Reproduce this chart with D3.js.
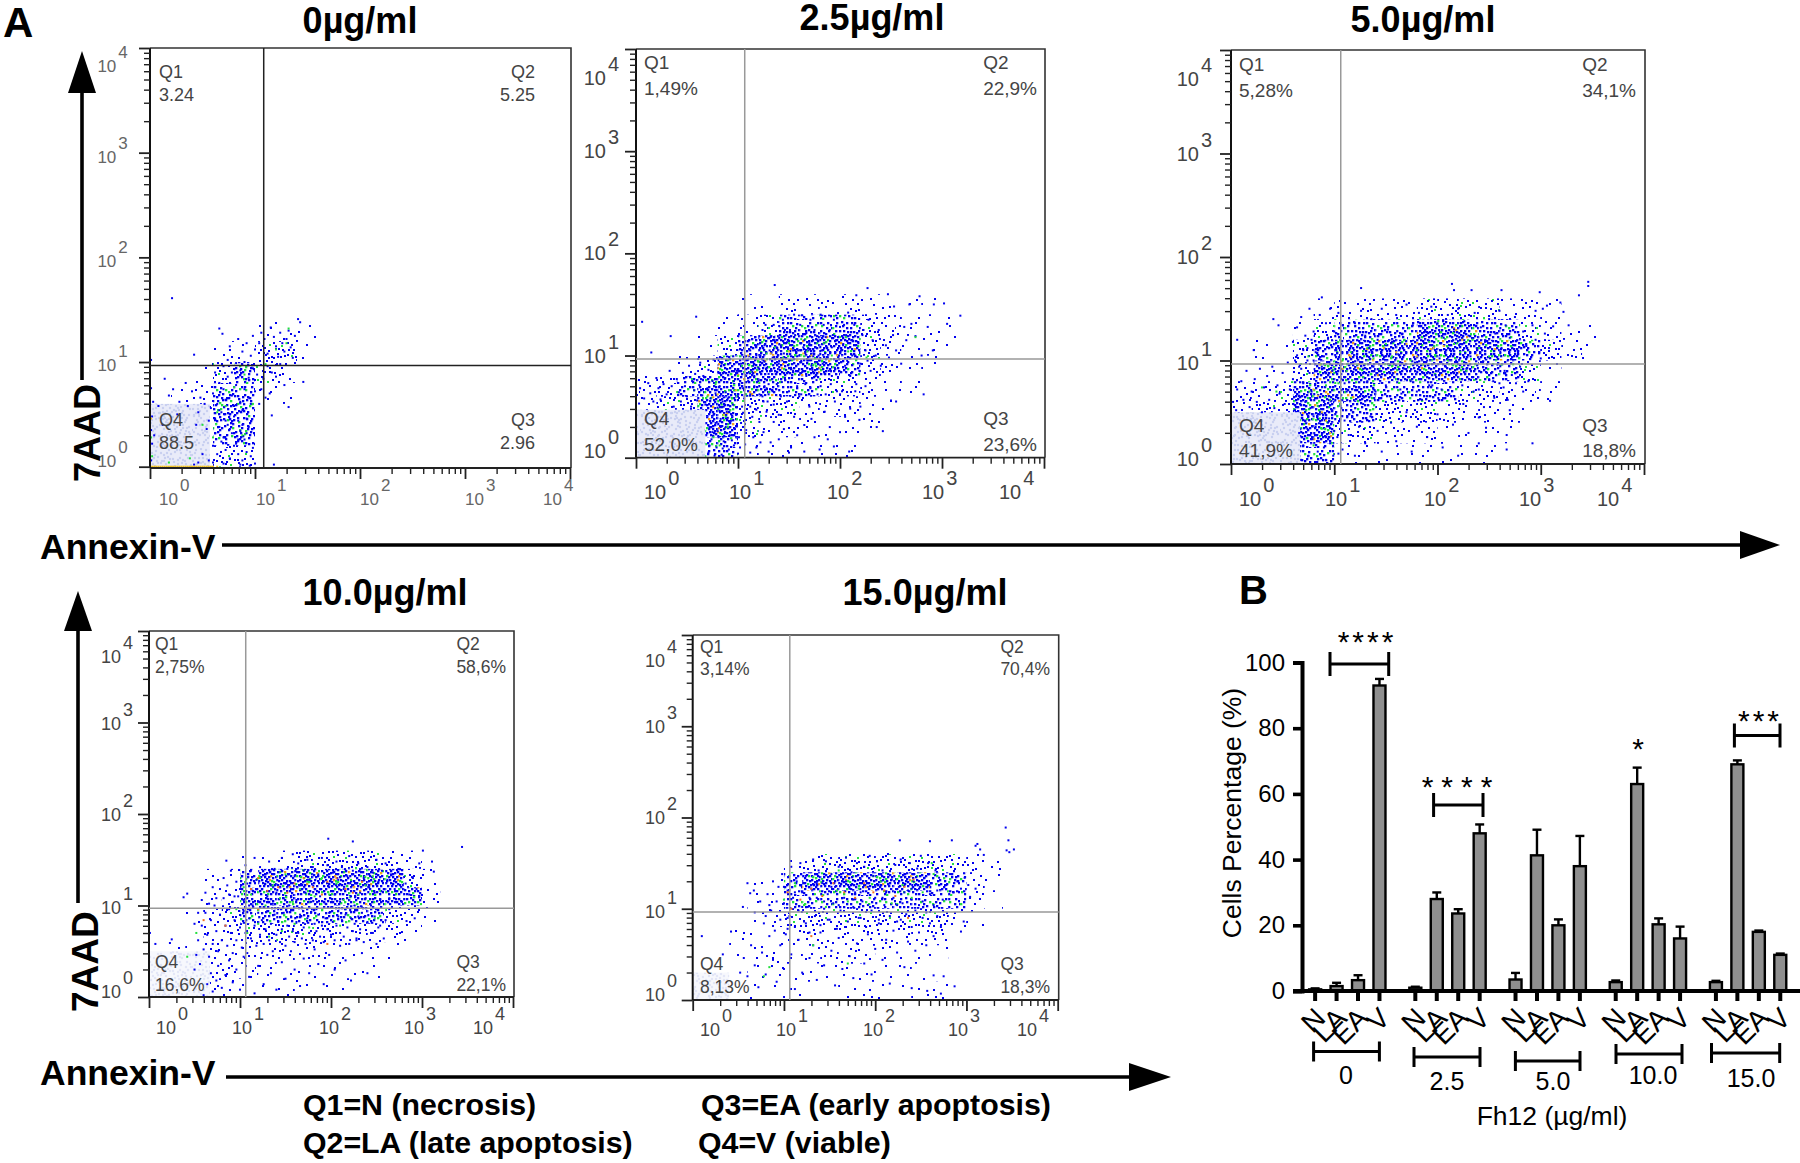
<!DOCTYPE html>
<html><head><meta charset="utf-8">
<script src="https://cdn.jsdelivr.net/npm/d3@7/dist/d3.min.js"></script>
<style>html,body{margin:0;background:#fff}svg{display:block}text{font-family:"Liberation Sans",Arial,sans-serif}</style>
</head><body><svg id="c" width="1800" height="1163"></svg>
<script>
// ---------- flow cytometry values
const titles=["0µg/ml","2.5µg/ml","5.0µg/ml","10.0µg/ml","15.0µg/ml"];
const gateX=[1.083,1.066,1.063,1.063,1.064];
const gateY=[0.966,0.966,0.966,0.97,0.965];
const q1=["3.24","1,49%","5,28%","2,75%","3,14%"];
const q2=["5.25","22,9%","34,1%","58,6%","70,4%"];
const q3=["2.96","23,6%","18,8%","22,1%","18,3%"];
const q4=["88.5","52,0%","41,9%","16,6%","8,13%"];
const paleX=[0.57,0.68,0.67,0.67,0.40];
const paleY=[0.60,0.47,0.50,0.50,0.30];

// event density by eye, 0 (none) to 5 (densest): one character per 0.2 decade of Annexin-V,
// one row per 0.2 decade of 7AAD, top row first (top row = 1.4 to 1.6 decades)
const density0=["000000000000000000","000001110000000000","000113310000000000","001343200000000000","012441100000000000","112440000000000000","000440000000000000","000330000000000000"];
const density25=["000001122222111000","000012344443211100","000134555553211100","001355555543211000","234555544332110000","233553332221100000","000553221111000000","000441111110000000"];
const density5=["000012222333322100","000134444555443211","011345555555554321","001355555555443100","223555544443322100","233554433322211000","000553322211110000","000441111111100000"];
const density10=["000001123333322000","000114555555553100","000125555555555200","001234444444432100","001223333322221000","011222222211110000","000222111111100000","000211111110000000"];
const density15=["000001233333333210","000114555555544210","000114444444444210","000123333333332100","001112222222221000","001121222211110000","000111111111100000","000111011111110000"];

// single events: hundredths of a decade, flat x,y lists
const p0Blue=[21,161,146,81,132,57,116,49,141,141,143,138,0,105,1,102,42,107,69,127,66,132,76,115,84,122,88,110,92,118,96,106,100,112,98,125,104,118,106,128,109,122,112,108,115,133,118,124,120,115,122,105,124,128,126,118,128,110,130,122,132,130,134,114,136,104,138,125,112,96,116,90,120,86,124,98,128,78,102,88,106,74,110,66,100,72,104,60,108,84,114,70,70,96,74,102,78,90,82,99,86,92,90,100,94,85,98,94,62,90,66,80,70,74,74,86,78,68,82,78,86,62,90,74,94,66,98,80,60,70,64,60,68,52,72,64,76,50,80,58,84,44,88,54,92,46,96,60,58,56,62,46,66,38,70,28,74,40,78,32,82,22,86,34,90,26,94,38,98,18,62,32,60,20,64,12,68,24,72,16,76,8,80,20,84,12,88,6,92,14,96,10,66,54,72,44,76,36,80,48,84,26,88,40,92,32,56,44,54,36,52,60,48,66,46,52,44,40,40,72,36,58,34,80,28,62,22,74,26,50,18,68,14,84,12,40,8,58,4,30,3,62,2,48,1,75,0,14,1,6,2,22,1,35,0,44,50,12,46,4,42,2,56,6,60,4,70,3,86,2,95,1,100,3,118,2];
const p0Green=[0,20,1,28,0,40,2,10,50,40,64,52,72,58,80,76,84,60,90,88,110,98,120,112,130,118,132,132,98,60,60,28,88,30,38,8,18,4];
const p0Hot=[0,0,2,0,4,0,6,0,8,0,10,0,12,0,14,0,16,0,18,0,20,0,22,0,24,0,26,0,28,0,30,0,32,0,34,0,36,0,38,0,40,0,42,0,44,0,46,0,48,0,50,0,52,0,54,0,56,0,58,0,60,0,64,0,0,3,0,6,0,9,0,12,0,15,0,18,0,21,0,24,0,27,0,30,0,33,0,36,0,39,0,42,1,46];

const p25Blue=[136,169,6,133,59,138,34,119,15,103,227,166,247,160,278,158,302,151,318,139,305,131,292,150,268,150,253,148,216,159,282,62,255,55,250,56,242,26,236,30,219,37,209,6,194,11,291,105,280,100,274,119,286,128,263,128,270,131,4,68,8,58,3,53,12,73,14,63,17,55,20,78,22,68,24,57,27,72,30,62,33,85,35,70,37,50,40,77,42,64,44,55,46,83,48,70,50,60,52,90,54,50,55,75,57,66,58,82,60,56,62,71,63,93,65,61,66,80,68,52,70,68,71,86,73,58,75,75,76,96,78,63,80,49,81,83,82,70,84,92,85,55,87,77,88,64,71,5,74,18,72,30,76,42,79,10,80,26,83,38,84,3,86,16,88,30,89,45,91,8,92,22,93,36,95,52,96,12,97,28,98,42,100,4,100,60,101,20,103,34,104,50,105,68,107,13,108,27,110,75,72,12,75,25,78,34,82,46,85,9,87,24,90,39,94,17,99,33,102,10,105,44,77,2,81,20,83,30,86,50,90,58,93,66,96,75,99,85,103,92,106,58,108,80,110,96,112,62,114,84,116,70,118,100,120,88,122,76,124,60,126,94,128,68,130,82,112,5,115,20,118,10,121,35,114,40,125,25,128,45,132,15,135,35,112,50,118,47,125,55,130,62,135,52,140,42,145,28,148,55,152,10,155,40,160,60,165,32,170,50,175,20,178,62,185,45,190,30,195,55,200,62,205,40,210,48,215,65,220,50,225,70,165,6,180,8,150,5,130,6,140,18,122,15,158,22,172,38,188,18,200,25,112,105,115,90,117,118,120,75,122,100,124,125,126,110,128,88,130,72,132,118,134,98,135,130,137,82,138,108,140,92,141,120,143,74,144,135,145,102,147,86,148,113,150,95,151,125,153,78,154,105,155,140,157,90,158,116,160,100,161,130,163,84,164,108,166,72,167,122,168,95,170,112,171,135,173,86,174,102,175,125,177,76,178,115,180,95,181,140,182,105,184,130,185,82,186,118,188,98,190,125,191,72,192,108,194,135,195,88,196,115,198,78,199,100,200,128,202,65,203,110,205,90,206,120,208,142,210,80,212,100,214,130,216,72,218,112,220,92,222,120,225,105,228,135,230,85,232,115,235,100,238,125,240,90,245,110,248,98,252,120,255,105,260,92,265,115,118,110,125,95,127,130,131,105,133,85,136,115,139,100,142,110,146,125,149,108,152,88,156,120,159,105,162,95,165,115,169,105,172,90,176,108,179,100,183,92,187,108,189,85,193,120,197,95,201,105,204,130,207,95,211,115,215,100,219,85,223,125,227,95,116,80,121,62,126,70,129,55,134,65,138,72,142,60,146,78,150,65,154,85,158,70,162,62,167,80,171,68,176,80,181,70,186,62,192,80,197,65];
const p25Green=[70,60,78,72,84,52,90,30,96,66,100,80,104,90,112,84,120,94,128,102,136,108,144,98,150,112,156,100,162,116,168,104,176,92,184,112,192,100,200,118,208,104,76,20,82,12,88,40,94,58,108,62,226,98,274,118];
const p25Hot=[80,62,86,42,98,66,110,100,132,102,142,96,150,104,158,96,164,102,172,100,180,88];

const p5Blue=[126,170,88,161,41,140,46,134,6,120,22,110,214,174,216,168,233,168,262,168,299,166,346,176,346,172,337,163,319,156,306,153,302,150,322,147,327,134,312,133,295,148,309,61,292,20,267,28,267,14,247,35,240,45,283,70,276,78,270,52,268,62,2,60,6,72,5,52,10,80,12,62,15,90,18,55,20,70,23,82,25,60,28,92,30,50,32,74,35,85,37,62,40,94,42,54,45,76,47,68,50,88,52,58,55,98,57,72,60,82,62,52,64,105,66,66,68,92,70,78,72,60,74,112,76,88,78,70,80,100,66,30,70,18,72,42,75,8,77,54,79,24,82,36,84,12,86,48,88,28,90,60,92,4,94,40,96,20,98,52,100,32,102,66,104,10,68,4,74,34,80,46,85,22,90,16,95,44,99,8,103,26,106,56,108,14,110,42,112,70,114,28,118,50,120,8,124,36,128,58,130,20,135,46,138,72,142,32,146,12,150,60,155,40,160,22,165,68,170,50,175,12,180,36,185,62,190,26,195,76,200,48,205,16,210,66,215,38,220,8,225,58,230,30,235,70,240,20,245,55,250,82,255,64,260,78,265,90,110,78,114,96,116,118,118,86,120,136,122,104,124,74,126,148,128,92,130,124,132,80,134,108,136,140,138,94,140,70,142,120,144,86,146,150,148,104,150,76,152,130,154,96,156,118,158,84,160,144,162,106,164,72,166,126,168,92,170,154,172,112,174,80,176,134,178,98,180,70,182,146,184,116,186,88,188,128,190,100,192,76,194,152,196,112,198,86,200,136,202,102,204,72,206,122,208,94,210,144,212,110,214,82,216,130,218,100,220,150,222,116,224,76,226,138,228,92,230,124,232,104,234,84,236,146,238,112,240,72,242,132,244,98,246,118,248,88,250,140,252,106,254,80,256,126,258,96,260,148,262,112,264,74,266,134,268,100,270,122,272,86,275,142,278,108,280,94,283,128,286,114,288,80,292,134,295,120,300,102,304,126,308,112,60,118,64,132,68,142,72,124,76,150,80,128,84,112,86,144,90,104,92,136,94,122,96,150,98,90,100,128,102,110,104,146,106,84,108,134,88,94,82,108,78,120,74,100,70,110,66,94,62,100];
const p5Green=[76,70,84,56,88,34,92,76,96,62,100,88,104,78,108,100,112,90,116,108,122,96,128,84,132,112,138,102,144,92,150,116,156,104,162,94,168,120,174,100,180,110,186,96,192,118,198,104,204,122,210,100,216,116,222,108,228,90,234,120,240,112,250,104,262,96,80,18,86,44,44,70,30,74,75,104];
const p5Hot=[88,50,92,42,96,30,84,66,108,92,116,104,148,112,160,108,170,116,180,104,196,112,206,114,224,120,80,72,86,96];

const p10Blue=[85,149,38,109,42,113,7,58,23,59,25,63,1,70,197,173,224,170,301,160,344,164,311,148,313,137,297,146,289,131,292,86,283,83,278,71,60,2,64,14,68,26,70,6,74,18,76,34,80,10,84,24,88,40,92,16,96,30,100,8,104,44,110,22,116,4,120,34,126,14,130,46,134,26,140,8,146,38,150,20,156,50,160,30,166,12,170,42,176,26,182,52,186,36,192,14,198,46,204,30,210,56,216,40,222,18,228,62,234,48,240,26,246,70,250,58,254,78,258,64,50,30,52,46,54,62,56,36,58,78,60,52,62,92,64,68,66,44,68,84,70,58,72,100,74,72,76,50,78,90,80,62,82,108,84,78,86,56,88,96,90,70,92,48,94,84,96,62,98,110,100,76,102,54,104,94,106,70,108,48,110,86,112,64,114,100,116,78,118,56,120,92,122,68,124,84,126,58,128,74,130,94,132,62,134,80,136,50,138,90,140,68,142,82,144,60,146,74,148,92,150,56,152,78,154,66,156,88,158,72,160,60,162,82,164,70,166,90,168,64,170,76,172,58,174,86,176,70,178,92,180,62,182,80,184,72,186,90,188,66,190,78,192,60,194,86,196,74,198,92,200,68,202,82,204,62,206,78,208,88,210,70,212,84,214,66,216,90,218,76,220,58,222,86,224,72,226,80,228,64,230,88,232,74,234,92,236,60,240,82,244,70,248,88,252,76,256,92,260,84,264,96,100,118,102,132,104,106,106,144,108,124,110,100,112,138,114,116,116,152,118,128,120,104,122,142,124,118,126,98,128,134,130,110,132,148,134,122,136,102,138,140,140,114,142,96,144,130,146,152,148,108,150,124,152,140,154,100,156,118,158,156,160,132,162,106,164,146,166,122,168,98,170,138,172,114,174,150,176,128,178,104,180,142,182,118,184,96,186,134,188,110,190,152,192,126,194,102,196,144,198,120,200,98,202,136,204,112,206,148,208,128,210,104,212,142,214,118,216,96,218,132,220,154,222,110,224,138,226,100,228,124,230,146,232,114,234,98,236,130,238,108,240,142,242,120,244,100,246,136,248,114,250,150,252,126,254,106,256,138,258,118,260,146,262,128,264,108,266,134,270,118,274,140,278,104,282,124,286,112,290,130,294,118,78,118,82,130,86,122,90,138,94,110,96,126,92,104,88,112,74,108,70,120,66,102,62,114,58,106,54,92,50,80];
const p10Green=[96,96,104,120,112,112,122,130,128,100,136,122,144,108,150,134,158,104,166,118,174,126,182,110,190,130,198,112,206,124,214,106,222,128,230,112,238,122,246,132,254,116,108,70,120,80,132,66,146,72,160,80,176,76,210,78,248,86,42,44,52,70];
const p10Hot=[112,118,120,130,130,116,142,120,152,114,160,124,170,130,180,120,190,112,196,126,206,130,216,118,224,114,234,126,120,96,60,84,84,78,196,58];

const p15Blue=[343,189,346,175,344,164,347,162,352,165,310,169,312,171,315,165,319,159,227,175,284,175,260,174,10,70,33,50,42,75,60,128,55,102,67,120,63,117,287,15,272,7,257,10,240,13,264,27,275,26,304,113,310,122,297,86,294,75,52,30,56,46,60,26,64,60,68,38,72,14,76,52,80,28,84,70,88,44,92,20,96,60,100,34,104,78,108,50,112,12,116,66,120,30,124,84,128,46,132,60,136,22,140,74,144,38,148,88,152,54,156,16,160,68,164,34,168,80,172,48,176,24,180,62,184,90,188,40,192,72,196,28,200,56,204,84,208,44,212,66,216,18,220,76,224,52,228,88,232,36,236,64,240,80,244,54,248,74,252,90,256,60,260,84,264,70,268,92,272,80,68,96,74,108,78,84,82,116,86,98,88,130,90,76,92,108,94,124,96,88,98,138,100,106,102,72,104,120,106,92,108,146,110,112,112,80,114,130,116,98,118,150,120,118,122,86,124,136,126,102,128,74,130,122,132,154,134,92,136,112,138,142,140,82,142,128,144,100,146,152,148,116,150,88,152,138,154,106,156,124,158,78,160,146,162,98,164,130,166,112,168,156,170,86,172,122,174,140,176,102,178,118,180,150,182,90,184,132,186,108,188,146,190,80,192,124,194,158,196,98,198,136,200,112,202,152,204,88,206,126,208,142,210,104,212,118,214,160,216,92,218,132,220,112,222,148,224,86,226,124,228,154,230,106,232,138,234,94,236,120,238,150,240,110,242,130,244,98,246,144,248,122,250,158,252,108,254,134,256,96,258,150,260,116,262,128,264,104,266,142,268,120,270,134,274,110,278,126,282,138,286,118,290,130,294,122,298,134,302,126,80,92,84,104,100,124,104,90,112,118,120,102,128,112,136,128,144,108,152,124,160,104,168,130,176,110,184,118,192,104,200,124,208,112,216,128,224,104,232,118,240,122,248,104,256,124];
const p15Green=[100,110,112,128,122,104,134,116,146,102,158,120,170,108,182,122,194,112,206,130,218,106,230,126,240,112,252,118,264,138,132,60,170,40,84,36,78,26,262,150,160,142];
const p15Hot=[104,118,118,110,130,122,142,114,154,128,166,118,178,112,188,128,198,118,210,120,222,114,232,124,242,132,108,100,236,90,130,70];

// ---------- bar chart values
const groups=["0","2.5","5.0","10.0","15.0"];
const cats=["N","LA","EA","V"];
const barMeans=[[0.5,1.5,3.3,93],[1,28,23.6,48],[3.5,41.3,20,38],[2.7,63,20.3,16],[2.7,69,18,11]];
const barErrs=[[0.3,1,1.5,2],[0.3,2,1.3,2.7],[2,7.8,1.8,9.2],[0.5,5,1.8,3.6],[0.4,1.2,0.4,0.4]];
const yTicksB=[0,20,40,60,80,100];

// ---------- layout and style only: speckle tile for the density cells
const tileDots=[3,5,19,2,11,14,27,18,6,25,22,28,14,7,30,9,8,19,24,12,1,13,17,22,12,30,28,3,4,29,20,16,9,1,25,25,15,11,31,22,2,20,18,7,7,10,23,20,13,24,29,13,10,5,26,29,5,16,21,11,16,18,0,7,12,19,27,7,19,28,8,27,3,10,14,2,24,5,30,15,6,21,17,14,11,10,21,24,1,25,28,24,9,15,25,16,15,27,4,2,20,20,31,29,13,16,22,2,7,31,18,11,2,31,26,10,10,23,29,20,5,7,16,4,23,9,12,26,0,17,19,19,27,13,8,12,15,22,3,23,21,30,11,2,25,21,6,13,17,26,30,5,13,12,24,27,1,4,9,29,20,6,28,28,4,19,14,20,22,15,7,4,26,1,18,30,10,17,31,11,16,9,2,15,23,24,5,27,29,0,12,5,19,12,27,31,8,22,15,15];
const levelCount=[0,7,18,36,60,100];
const quadOffset=[0,23,47,71];
const panels=[
 {x0:150,x1:570,yb:466.7,yt:48,frameB:468,font:"DejaVu Sans",lab:"#666",txt:"#444",gate:"#222",
  xl:[159,256,360,465,543],xBase:505,yR:119,yd:[24,10,10,9,0],fs:17,
  q:{lx:159,rx:535,y1:78,y2:101,y3:426,y4:449},qfs:18},
 {x0:636,x1:1044,yb:457.7,yt:49,frameB:457.7,font:"Liberation Sans",lab:"#444",txt:"#444",gate:"#999",
  xl:[644,729,827,922,999],xBase:499,yR:606,yd:[36,7,7,7,0],fs:20,
  q:{lx:644,rx:1037,y1:69,y2:95,y3:425,y4:451},qfs:19},
 {x0:1231,x1:1644,yb:464,yt:50,frameB:464,font:"Liberation Sans",lab:"#444",txt:"#444",gate:"#999",
  xl:[1239,1325,1424,1519,1597],xBase:506,yR:1199,yd:[36,7,7,9,2],fs:20,
  q:{lx:1239,rx:1636,y1:71,y2:97,y3:432,y4:457},qfs:19},
 {x0:149,x1:513,yb:997,yt:631,frameB:997,font:"Liberation Sans",lab:"#444",txt:"#444",gate:"#999",
  xl:[156,232,319,404,473],xBase:1034,yR:121,yd:[32,7,7,8,1],fs:18,
  q:{lx:155,rx:506,y1:650,y2:673,y3:968,y4:991},qfs:17.5},
 {x0:692.7,x1:1057.7,yb:1000,yt:635,frameB:1000,font:"Liberation Sans",lab:"#444",txt:"#444",gate:"#999",
  xl:[700,776,863,948,1017],xBase:1036,yR:665,yd:[32,7,6,9,1],fs:18,
  q:{lx:700,rx:1050,y1:653,y2:675,y3:970,y4:993},qfs:17.5}
];
const titleAt=[[360,33],[872,30],[1423,32],[385,605],[925,605]];
const blue=[p0Blue,p25Blue,p5Blue,p10Blue,p15Blue];
const green=[p0Green,p25Green,p5Green,p10Green,p15Green];
const hot=[p0Hot,p25Hot,p5Hot,p10Hot,p15Hot];
const density=[density0,density25,density5,density10,density15];

const svg=d3.select("#c");
const pairs=a=>d3.range(0,a.length,2).map(i=>[a[i],a[i+1]]);
const decades=[1,10,100,1000,10000];
const minors=d3.merge(decades.slice(0,4).map(d=>d3.range(2,10).map(k=>d*k)));

// speckle patterns: four mirrored quadrants of the tile, each from a different slice of the dot list
const defs=svg.append("defs");
const tile=pairs(tileDots);
const quadDots=n=>d3.merge(quadOffset.map((off,q)=>d3.range(n).map(i=>{
  const d=tile[(i+off)%tile.length];
  return {x:(q%2?31-d[0]+32:d[0]),y:(q>1?31-d[1]+32:d[1]),i};
})));
levelCount.forEach((n,l)=>{
  if(!l)return;
  defs.append("pattern").attr("id","lvl"+l).attr("patternUnits","userSpaceOnUse").attr("width",64).attr("height",64)
   .selectAll("rect").data(quadDots(n)).join("rect")
   .attr("x",d=>d.x).attr("y",d=>d.y).attr("width",l>3?2.3:2).attr("height",l>3?2.3:2)
   .attr("fill",d=>l>=5&&d.i%31==5?"#f0a020":(l>=3&&d.i%7==3?"#22dd44":"#0000f0"));
});
[["pale0","#e9ebf9","#c9d0f0"],["pale1","#f7f8fd","#e3e6f7"]].forEach(([id,bg,dot])=>{
  const pt=defs.append("pattern").attr("id",id).attr("patternUnits","userSpaceOnUse").attr("width",64).attr("height",64);
  pt.append("rect").attr("width",64).attr("height",64).attr("fill",bg);
  pt.selectAll("circle").data(quadDots(60)).join("circle").attr("cx",d=>d.x).attr("cy",d=>d.y).attr("r",1.2).attr("fill",dot);
});

panels.forEach((p,i)=>{
  const x=d3.scaleLog().domain([1,1e4]).range([p.x0,p.x1]);
  const y=d3.scaleLog().domain([1,1e4]).range([p.yb,p.yt]);
  const X=u=>x(Math.pow(10,u/100)), Y=u=>y(Math.pow(10,u/100));
  const g=svg.append("g");
  // density cells
  const cells=[];
  density[i].forEach((row,r)=>row.split("").forEach((c,k)=>{ if(+c) cells.push({k,r:density[i].length-1-r,l:+c}); }));
  g.append("g").selectAll("rect").data(cells).join("rect")
    .attr("x",d=>X(d.k*20)).attr("width",d=>X((d.k+1)*20)-X(d.k*20))
    .attr("y",d=>Y((d.r+1)*20)).attr("height",d=>Y(d.r*20)-Y((d.r+1)*20))
    .attr("fill",d=>`url(#lvl${d.l})`);
  g.append("rect").attr("x",p.x0).attr("y",y(Math.pow(10,paleY[i])))
    .attr("width",x(Math.pow(10,paleX[i]))-p.x0).attr("height",p.frameB-y(Math.pow(10,paleY[i])))
    .attr("fill",i>=3?"url(#pale1)":"url(#pale0)");
  [[blue[i],"#0000f0"],[green[i],"#22e03c"],[hot[i],i==3||i==4?"#f07020":"#f0c020"]].forEach(([arr,c])=>{
    g.append("g").selectAll("rect").data(pairs(arr)).join("rect")
      .attr("x",d=>X(d[0])-1).attr("y",d=>Math.min(Y(d[1])-1,p.frameB-2))
      .attr("width",2).attr("height",2).attr("fill",c);
  });
  // frame
  g.append("path").attr("d",`M${p.x0},${p.yt}H${p.x1+1}V${p.frameB}`).attr("fill","none").attr("stroke","#333").attr("stroke-width",1.6);
  g.append("line").attr("x1",p.x0).attr("x2",p.x1+1).attr("y1",p.frameB).attr("y2",p.frameB).attr("stroke","#222").attr("stroke-width",1.8);
  g.append("line").attr("x1",p.x0).attr("x2",p.x0).attr("y1",p.yt).attr("y2",p.frameB).attr("stroke","#111").attr("stroke-width",2);
  // gates
  g.append("line").attr("x1",x(Math.pow(10,gateX[i]))).attr("x2",x(Math.pow(10,gateX[i]))).attr("y1",p.yt).attr("y2",p.frameB).attr("stroke",p.gate).attr("stroke-width",1.5);
  g.append("line").attr("x1",p.x0).attr("x2",p.x1+1).attr("y1",y(Math.pow(10,gateY[i]))).attr("y2",y(Math.pow(10,gateY[i]))).attr("stroke",p.gate).attr("stroke-width",1.5);
  // axes
  const ax=(gen,tf)=>{
    [[minors,6,1.4],[decades,11,1.8]].forEach(([vals,len,w])=>{
      const a=g.append("g").attr("transform",tf).call(gen.tickValues(vals).tickSize(len).tickFormat(""));
      a.select(".domain").remove();
      a.selectAll("line").attr("stroke","#222").attr("stroke-width",w);
    });
  };
  ax(d3.axisBottom(x),`translate(0,${p.frameB})`);
  ax(d3.axisLeft(y),`translate(${p.x0},0)`);
  // tick labels
  const lab=(lx,ly,e)=>{
    const t=g.append("text").attr("x",lx).attr("y",ly).attr("font-family",p.font).attr("font-size",p.fs).attr("fill",p.lab);
    t.append("tspan").text("10");
    t.append("tspan").attr("dy",-14).attr("dx",2).text(e);
  };
  decades.forEach((d,k)=>lab(p.xl[k],p.xBase,k));
  const w10=(p.font=="DejaVu Sans"?1.272:1.112)*p.fs;
  decades.forEach((d,k)=>lab(p.yR-w10,y(d)+p.yd[4-k],k));
  // quadrant text
  const qt=(s,xx,yy,a)=>g.append("text").attr("x",xx).attr("y",yy).attr("text-anchor",a).attr("font-family",p.font)
     .attr("font-size",p.qfs).attr("fill",p.txt).text(s);
  const q=p.q;
  qt("Q1",q.lx,q.y1,"start");qt(q1[i],q.lx,q.y2,"start");
  qt("Q4",q.lx,q.y3,"start");qt(q4[i],q.lx,q.y4,"start");
  const v2=qt(q2[i],q.rx,q.y2,"end"), v3=qt(q3[i],q.rx,q.y4,"end");
  if(i){
    qt("Q2",q.rx-v2.node().getComputedTextLength(),q.y1,"start");
    qt("Q3",q.rx-v3.node().getComputedTextLength(),q.y3,"start");
  }else{qt("Q2",q.rx,q.y1,"end");qt("Q3",q.rx,q.y3,"end");}
  // title
  svg.append("text").attr("x",titleAt[i][0]).attr("y",titleAt[i][1]).attr("text-anchor","middle")
    .attr("font-weight","bold").attr("font-size",36).text(titles[i]);
});

// ---------- big arrows and labels
const bold=(s,x,y,fs,rot)=>{const t=svg.append("text").attr("font-weight","bold").attr("font-size",fs).text(s);
  if(rot)t.attr("transform",`translate(${x},${y}) rotate(-90)`);else t.attr("x",x).attr("y",y);return t;};
bold("A",3,37,42);bold("B",1239,604,40);
const vArrow=(x,y1,y2,yh)=>{svg.append("line").attr("x1",x).attr("x2",x).attr("y1",y1).attr("y2",yh).attr("stroke","#000").attr("stroke-width",3.6);
  svg.append("path").attr("d",`M${x},${y2}L${x-14},${yh}H${x+14}Z`).attr("fill","#000");};
const hArrow=(x1,x2,xh,y)=>{svg.append("line").attr("x1",x1).attr("x2",xh).attr("y1",y).attr("y2",y).attr("stroke","#000").attr("stroke-width",3.6);
  svg.append("path").attr("d",`M${x2},${y}L${xh},${y-14}V${y+14}Z`).attr("fill","#000");};
vArrow(82,380,51,93);vArrow(78,903,591,631);
hArrow(222,1780,1740,545);hArrow(226,1171,1129,1077);
bold("7AAD",100,482,36,true);bold("7AAD",98,1012,37,true);
bold("Annexin-V",40,559,35.5);bold("Annexin-V",40,1085,35.5);
bold("Q1=N (necrosis)",303,1115,30.3);bold("Q2=LA (late apoptosis)",303,1153,30.3);
bold("Q3=EA (early apoptosis)",701,1115,30.3);bold("Q4=V (viable)",698,1153,30.3);

// ---------- bar chart
const yB=d3.scaleLinear().domain([0,100]).range([991,662.5]);
const xG=d3.scaleBand().domain(groups).range([1297.2,1798.2]);
const xS=d3.scaleBand().domain(cats).range([7.2,93]);
const b=svg.append("g");
const ya=b.append("g").attr("transform","translate(1302,0)").call(d3.axisLeft(yB).tickValues(yTicksB).tickSize(9).tickPadding(8));
ya.select(".domain").attr("stroke-width",4).attr("stroke","#000");
ya.selectAll("line").attr("stroke-width",3.6).attr("stroke","#000");
ya.selectAll("text").attr("font-size",24).attr("fill","#000").attr("font-family","Liberation Sans");
groups.forEach((gr,gi)=>{
  const g=b.append("g").attr("transform",`translate(${xG(gr)},0)`);
  const ax=g.append("g").attr("transform",`translate(0,${yB(0)})`).call(d3.axisBottom(xS).tickSize(10).tickFormat(""));
  ax.select(".domain").remove();ax.selectAll("line").attr("stroke","#000").attr("stroke-width",4);
  cats.forEach((c,ci)=>{
    const cx=xS(c)+xS.bandwidth()/2,m=barMeans[gi][ci],e=barErrs[gi][ci];
    g.append("line").attr("x1",cx).attr("x2",cx).attr("y1",yB(m)).attr("y2",yB(m+e)).attr("stroke","#000").attr("stroke-width",2.4);
    g.append("line").attr("x1",cx-4.5).attr("x2",cx+4.5).attr("y1",yB(m+e)).attr("y2",yB(m+e)).attr("stroke","#000").attr("stroke-width",2.4);
    g.append("rect").attr("x",cx-6).attr("width",12).attr("y",yB(m)).attr("height",yB(0)-yB(m)).attr("fill","#8f8f8f").attr("stroke","#000").attr("stroke-width",2.4);
    g.append("text").attr("transform",`translate(${cx-2},1006) rotate(-45)`).attr("text-anchor","end").attr("dy","0.7em").attr("font-size",28).text(c);
  });
});
b.append("line").attr("x1",1293).attr("x2",1800).attr("y1",yB(0)).attr("y2",yB(0)).attr("stroke","#000").attr("stroke-width",4);
b.append("text").attr("transform","translate(1241,813) rotate(-90)").attr("text-anchor","middle").attr("font-size",26.5).text("Cells Percentage (%)");
const br=[[1313.6,1379.4,1051.6],[1414,1480,1057],[1515.4,1580,1061],[1616,1682,1054],[1711.5,1779.7,1053]];
const brT=[[1346,1084],[1447,1090],[1553,1090],[1653,1084],[1751,1087]];
const bracket=(x1,x2,y,h)=>b.append("path").attr("d",`M${x1},${y-h}V${y+h}M${x1},${y}H${x2}M${x2},${y-h}V${y+h}`).attr("fill","none").attr("stroke","#000").attr("stroke-width",3);
br.forEach((r,i)=>{bracket(r[0],r[1],r[2],10);
  b.append("text").attr("x",brT[i][0]).attr("y",brT[i][1]).attr("text-anchor","middle").attr("font-size",25).text(groups[i]);});
b.append("text").attr("x",1552).attr("y",1125).attr("text-anchor","middle").attr("font-size",26.5).text("Fh12 (µg/ml)");
bracket(1330,1388.7,664,12);bracket(1433.6,1483,805,12);bracket(1734.4,1780,735.5,12);
const star=(s,x,y,ls)=>b.append("text").attr("x",x).attr("y",y).attr("text-anchor","middle").attr("font-size",30).attr("letter-spacing",ls).text(s);
star("****",1367,651.5,3);star("****",1461,797,8);star("*",1638,759,0);star("***",1760,731,3);
</script></body></html>
